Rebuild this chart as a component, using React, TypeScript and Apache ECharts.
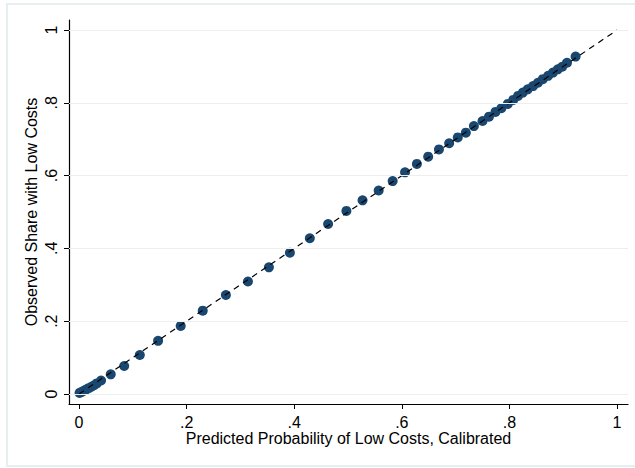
import React, { useEffect, useRef } from "react";
import * as echarts from "echarts";

const predicted = [
  0.001, 0.005, 0.009, 0.013, 0.018, 0.023, 0.028, 0.033, 0.041, 0.059, 0.084,
  0.113, 0.147, 0.189, 0.23, 0.273, 0.314, 0.353, 0.392, 0.429, 0.463, 0.497,
  0.527, 0.557, 0.583, 0.606, 0.628, 0.649, 0.669, 0.688, 0.704, 0.719, 0.734,
  0.75, 0.762, 0.774, 0.785, 0.797, 0.807, 0.816, 0.825, 0.834, 0.844, 0.853,
  0.862, 0.872, 0.881, 0.89, 0.898, 0.907, 0.923,
];
const observed = [
  0.003, 0.006, 0.009, 0.012, 0.016, 0.02, 0.024, 0.029, 0.037, 0.054, 0.077,
  0.107, 0.146, 0.187, 0.229, 0.272, 0.309, 0.348, 0.388, 0.428, 0.467, 0.503,
  0.532, 0.559, 0.585, 0.609, 0.632, 0.652, 0.672, 0.689, 0.705, 0.718, 0.736,
  0.75, 0.762, 0.775, 0.785, 0.797, 0.808, 0.819, 0.828, 0.837, 0.846, 0.855,
  0.865, 0.874, 0.883, 0.892, 0.899, 0.91, 0.927,
];
const diagonal = [
  [0, 0],
  [1, 1],
];
const tickValues = [0, 0.2, 0.4, 0.6, 0.8, 1];
const tickLabels = ["0", ".2", ".4", ".6", ".8", "1"];
const xTitle = "Predicted Probability of Low Costs, Calibrated";
const yTitle = "Observed Share with Low Costs";

const FONT = "'Liberation Sans', Arial, Helvetica, sans-serif";

export default function App() {
  const ref = useRef<HTMLDivElement>(null);
  useEffect(() => {
    if (!ref.current) return;
    const chart = echarts.init(ref.current, null, { renderer: "svg" });
    const fmt = (v: number) => {
      const i = tickValues.findIndex((t) => Math.abs(t - v) < 1e-9);
      return i >= 0 ? tickLabels[i] : "";
    };
    const axisCommon = {
      type: "value" as const,
      nameLocation: "middle" as const,
      nameMoveOverlap: false,
      nameTextStyle: { color: "#000", fontSize: 16, fontFamily: FONT },
      axisLine: { show: true, onZero: false, lineStyle: { color: "#000", width: 1.2 } },
      axisTick: {
        show: true,
        length: 5,
        customValues: tickValues,
        lineStyle: { color: "#000", width: 1 },
      },
      splitLine: { show: false },
    };
    chart.setOption({
      animation: false,
      backgroundColor: "#ffffff",
      grid: {
        left: 69,
        top: 20,
        right: 7,
        bottom: 64,
        containLabel: false,
        outerBoundsMode: "none",
      },
      graphic: [
        {
          type: "rect",
          shape: { x: 7, y: 4, width: 700, height: 462 },
          style: { fill: "none", stroke: "#e6eff0", lineWidth: 2 },
          silent: true,
          z: -10,
        },
      ],
      xAxis: {
        ...axisCommon,
        min: -0.0186,
        max: 1.0204,
        name: xTitle,
        nameGap: 26,
        axisLabel: {
          customValues: tickValues,
          formatter: fmt,
          color: "#000",
          fontSize: 16,
          fontFamily: FONT,
          margin: 10,
        },
      },
      yAxis: {
        ...axisCommon,
        min: -0.0275,
        max: 1.0275,
        name: yTitle,
        nameGap: 30,
        axisLabel: {
          customValues: tickValues,
          formatter: fmt,
          rotate: 90,
          color: "#000",
          fontSize: 16,
          fontFamily: FONT,
          margin: 10,
        },
      },
      series: [
        {
          type: "line",
          data: [],
          silent: true,
          z: 1,
          markLine: {
            silent: true,
            symbol: "none",
            label: { show: false },
            lineStyle: { color: "#eeeeee", width: 1.2, type: "solid" },
            data: tickValues.map((v) => ({ yAxis: v })),
          },
        },
        {
          type: "scatter",
          data: predicted.map((x, i) => [x, observed[i]]),
          symbol: "circle",
          symbolSize: 10,
          itemStyle: { color: "#1a476f", opacity: 1 },
          z: 3,
        },
        {
          type: "line",
          data: diagonal,
          symbol: "none",
          lineStyle: { color: "#000", width: 1.2, type: [6, 5] },
          z: 4,
        },
      ],
    });
    return () => chart.dispose();
  }, []);
  return (
    <div
      ref={ref}
      style={{ position: "fixed", left: 0, top: 0, width: 635, height: 468 }}
    />
  );
}
